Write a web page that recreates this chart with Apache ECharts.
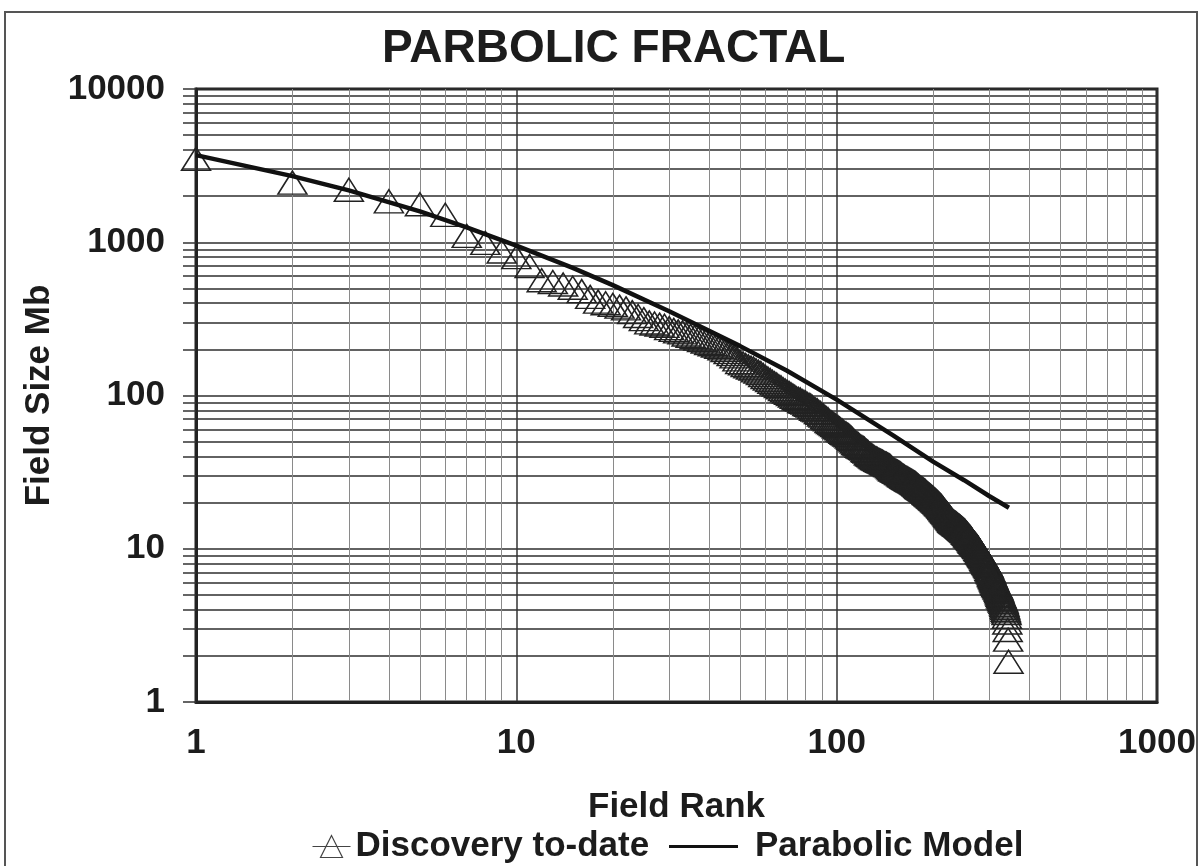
<!DOCTYPE html>
<html>
<head>
<meta charset="utf-8">
<script src="https://cdn.jsdelivr.net/npm/echarts@6/dist/echarts.min.js"></script>
<style>
  html, body { margin: 0; padding: 0; background: #fff; }
  #chart { width: 1203px; height: 866px; }
</style>
</head>
<body>
<div id="chart"></div>
<script>
// discovered field sizes (Mb), in rank order 1..N
const discovery = [
  3500, 2450, 2200, 1850, 1770, 1510, 1100, 990, 870, 800,
  700, 565, 550, 530, 505, 480, 440, 410, 400, 390,
  380, 370, 350, 330, 315, 300, 295, 290, 285, 275,
  268, 262, 258, 250, 245, 240, 235, 230, 225, 220,
  216, 212, 208, 203, 198, 192, 186, 180, 172, 165,
  162, 158, 155, 152, 150, 146, 143, 140, 136, 132,
  129, 126, 123, 120, 118, 115, 113, 110, 108, 106,
  104, 102, 100, 98, 96, 95, 94, 92, 91, 90,
  88, 87, 86, 84, 82, 81, 80, 78, 77, 75,
  74, 72, 71, 70, 68, 67, 66, 65, 64, 63,
  62, 61, 60, 59, 58, 57, 56.5, 55.5, 55, 54,
  53, 52, 51, 50, 49, 48.5, 48, 47, 46.5, 46,
  45.5, 45, 44, 43.5, 43, 42, 41.5, 41, 40.5, 40,
  39.5, 39, 38.8, 38.5, 38, 37.8, 37.5, 37.2, 37, 36.6,
  36.2, 36, 35.8, 35.5, 35.2, 35, 34.5, 34, 33.5, 33,
  32.8, 32.5, 32.2, 32, 31.8, 31.5, 31.2, 31, 30.6, 30.3,
  30, 29.8, 29.5, 29.2, 29, 28.8, 28.6, 28.4, 28.2, 28,
  27.8, 27.6, 27.4, 27.2, 27, 26.8, 26.5, 26.2, 26, 25.7,
  25.4, 25.2, 25, 24.8, 24.6, 24.4, 24.2, 24, 23.8, 23.5,
  23.2, 23, 22.8, 22.6, 22.4, 22.2, 22, 21.8, 21.6, 21.4,
  21.2, 21, 20.8, 20.6, 20.4, 20.2, 20, 19.8, 19.6, 19.4,
  19.2, 19, 18.8, 18.5, 18.3, 18, 17.8, 17.6, 17.4, 17.2,
  17, 16.8, 16.6, 16.4, 16.2, 16, 15.8, 15.6, 15.4, 15.2,
  15.1, 15, 14.9, 14.8, 14.7, 14.6, 14.5, 14.4, 14.3, 14.2,
  14.1, 14, 13.9, 13.8, 13.7, 13.6, 13.5, 13.4, 13.3, 13.2,
  13.1, 13, 12.8, 12.7, 12.6, 12.5, 12.3, 12.2, 12.1, 12,
  11.9, 11.8, 11.6, 11.5, 11.3, 11.2, 11.1, 11, 10.9, 10.8,
  10.7, 10.6, 10.5, 10.4, 10.3, 10.2, 10, 9.9, 9.8, 9.6,
  9.5, 9.4, 9.3, 9.2, 9.1, 9, 8.9, 8.8, 8.6, 8.5,
  8.4, 8.3, 8.2, 8.1, 8, 7.9, 7.8, 7.7, 7.6, 7.4,
  7.3, 7.2, 7.1, 7, 6.8, 6.7, 6.6, 6.5, 6.4, 6.3,
  6.2, 6.1, 6, 5.9, 5.8, 5.8, 5.7, 5.6, 5.6, 5.5,
  5.4, 5.3, 5.2, 5.1, 5, 4.9, 4.9, 4.8, 4.7, 4.6,
  4.6, 4.5, 4.4, 4.3, 4.2, 4.1, 4.0, 3.9, 3.8, 3.6,
  3.3, 2.95, 2.55, 1.83
];

// parabolic model line, read at a few ranks
const modelRanks  = [1, 2, 3, 5, 7, 10, 15, 20, 30, 50, 70, 100, 150, 200, 250, 300, 345];
const modelValues = [3700, 2700, 2180, 1590, 1250, 950, 680, 525, 355, 210, 145, 94, 55, 37, 28, 22, 18.5];

const xLabels = [1, 10, 100, 1000];
const yLabels = [1, 10, 100, 1000, 10000];
const xMinor = [2, 3, 4, 5, 6, 7, 8, 9, 20, 30, 40, 50, 60, 70, 80, 90, 200, 300, 400, 500, 600, 700, 800, 900];
const yTicks = [1, 2, 3, 4, 5, 6, 7, 8, 9, 10, 20, 30, 40, 50, 60, 70, 80, 90,
  100, 200, 300, 400, 500, 600, 700, 800, 900, 1000, 2000, 3000, 4000, 5000, 6000, 7000, 8000, 9000, 10000];

const FONT = 'Liberation Sans, Arial, sans-serif';
const INK = '#1c1c1c';

const chart = echarts.init(document.getElementById('chart'));

chart.setOption({
  backgroundColor: '#fff',
  animation: false,
  title: {
    text: 'PARBOLIC FRACTAL',
    left: 382, top: 26, padding: 0,
    textStyle: { fontFamily: FONT, fontSize: 46, fontWeight: 'bold', color: INK },
  },
  graphic: [{
    type: 'rect', silent: true,
    shape: { x: 5, y: 12, width: 1192, height: 880 },
    style: { fill: 'none', stroke: '#555', lineWidth: 2 },
  }],
  legend: [{
    left: 310, top: 829, padding: 0,
    itemWidth: 38, itemHeight: 22, itemGap: 0,
    textStyle: { fontFamily: FONT, fontSize: 35, fontWeight: 'bold', color: INK },
    data: [{
      name: 'Discovery to-date',
      icon: 'path://M0,11 L38,11 M19,0 L8,22 L30,22 Z',
      itemStyle: { color: 'none', borderColor: '#444', borderWidth: 1.2 },
    }],
  }, {
    left: 669, top: 829, padding: 0,
    itemWidth: 69, itemHeight: 22,
    textStyle: { fontFamily: FONT, fontSize: 35, fontWeight: 'bold', color: INK, padding: [0, 0, 0, 12] },
    data: [{
      name: 'Parabolic Model',
      icon: 'path://M0,9.5 L69,9.5 L69,12.5 L0,12.5 Z',
      itemStyle: { color: '#111', borderWidth: 0 },
    }],
  }],
  grid: {
    left: 196, right: 46, top: 89, bottom: 164,
    show: true, borderColor: '#222', borderWidth: 3, backgroundColor: 'transparent',
  },
  xAxis: [{
    type: 'log', logBase: 10, min: 1, max: 1000,
    name: 'Field Rank', nameLocation: 'middle', nameGap: 88,
    nameTextStyle: { fontFamily: FONT, fontSize: 35, fontWeight: 'bold', color: INK },
    axisLine: { lineStyle: { color: '#222', width: 3 } },
    axisTick: { show: false, customValues: xLabels },
    axisLabel: {
      customValues: xLabels, margin: 24,
      formatter: v => String(v),
      fontFamily: FONT, fontSize: 35, fontWeight: 'bold', color: INK,
    },
    splitLine: { show: true, lineStyle: { color: '#333', width: 1.5 } },
  }, {
    type: 'log', logBase: 10, min: 1, max: 1000, position: 'top',
    axisLine: { show: false },
    axisTick: { show: false, customValues: xMinor },
    axisLabel: { show: false, customValues: xMinor },
    splitLine: { show: true, lineStyle: { color: '#8a8a8a', width: 1 } },
  }],
  yAxis: {
    type: 'log', logBase: 10, min: 1, max: 10000,
    name: 'Field Size Mb', nameLocation: 'middle', nameGap: 136,
    nameTextStyle: { fontFamily: FONT, fontSize: 35, fontWeight: 'bold', color: INK },
    axisLine: { lineStyle: { color: '#222', width: 3 } },
    axisTick: { show: true, inside: false, length: 13, customValues: yTicks, lineStyle: { color: '#333', width: 1.5 } },
    axisLabel: {
      customValues: yLabels, margin: 31,
      formatter: v => String(v),
      fontFamily: FONT, fontSize: 35, fontWeight: 'bold', color: INK,
    },
    splitLine: { show: true, lineStyle: { color: '#2e2e2e', width: 1.5 } },
  },
  series: [{
    name: 'Discovery to-date',
    type: 'scatter',
    symbol: 'triangle',
    symbolSize: [29, 23],
    itemStyle: { color: 'none', borderColor: '#222', borderWidth: 1.5, opacity: 1 },
    data: discovery.map((v, i) => [i + 1, v]),
    z: 3,
  }, {
    name: 'Parabolic Model',
    type: 'line',
    symbol: 'none',
    color: '#111',
    lineStyle: { color: '#111', width: 4.5 },
    data: modelRanks.map((r, i) => [r, modelValues[i]]),
    z: 4,
  }],
});
</script>
</body>
</html>
